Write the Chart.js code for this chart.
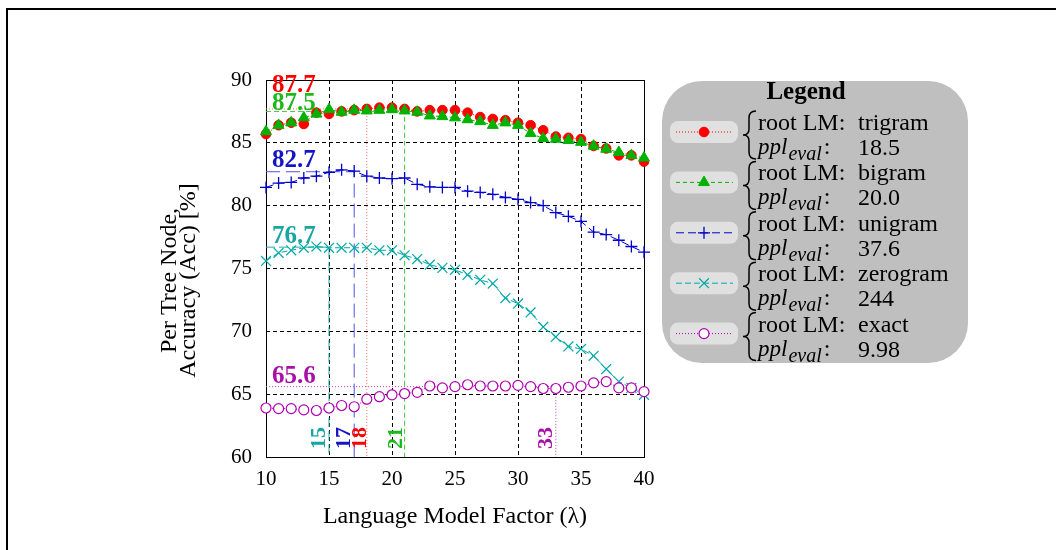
<!DOCTYPE html>
<html>
<head>
<meta charset="utf-8">
<script src="https://cdn.jsdelivr.net/npm/chart.js@4.4.0/dist/chart.umd.min.js"></script>
<style>
  html, body { margin: 0; padding: 0; background: #fff; }
  canvas { display: block; }
</style>
</head>
<body>
<canvas id="accChart" width="1056" height="550"></canvas>
<script>
// language model factor (lambda) on the x axis
const lambdas = [10, 11, 12, 13, 14, 15, 16, 17, 18, 19, 20, 21, 22, 23, 24, 25,
                 26, 27, 28, 29, 30, 31, 32, 33, 34, 35, 36, 37, 38, 39, 40];

// per tree node accuracy [%] for each root LM
const trigramAcc  = [85.7, 86.4, 86.6, 86.5, 87.4, 87.3, 87.5, 87.6, 87.7, 87.8, 87.8, 87.7, 87.5, 87.6, 87.6, 87.6,
                     87.4, 87.05, 86.9, 86.8, 86.6, 86.4, 86.0, 85.5, 85.4, 85.3, 84.75, 84.55, 84.0, 84.0, 83.5];
const bigramAcc   = [85.9, 86.4, 86.6, 87.0, 87.3, 87.65, 87.45, 87.6, 87.55, 87.6, 87.65, 87.55, 87.45, 87.15, 87.1, 87.0,
                     86.85, 86.7, 86.4, 86.6, 86.4, 85.75, 85.35, 85.3, 85.2, 85.05, 84.75, 84.5, 84.25, 84.0, 83.8];
const unigramAcc  = [81.45, 81.8, 81.85, 82.2, 82.35, 82.65, 82.85, 82.75, 82.35, 82.2, 82.15, 82.2, 81.7, 81.5, 81.45, 81.45,
                     81.15, 81.05, 80.9, 80.65, 80.5, 80.25, 80.0, 79.45, 79.15, 78.75, 77.9, 77.7, 77.25, 76.75, 76.3];
const zerogramAcc = [75.6, 76.25, 76.45, 76.65, 76.75, 76.65, 76.65, 76.65, 76.65, 76.45, 76.45, 76.05, 75.75, 75.3, 75.05, 74.9,
                     74.5, 74.1, 73.8, 72.65, 72.2, 71.5, 70.35, 69.55, 68.8, 68.6, 68.05, 67.0, 66.0, 65.5, 64.95];
const exactAcc    = [63.9, 63.85, 63.85, 63.75, 63.7, 63.9, 64.1, 64.0, 64.6, 64.8, 64.95, 65.05, 65.15, 65.65, 65.5, 65.6,
                     65.75, 65.65, 65.65, 65.65, 65.7, 65.6, 65.45, 65.45, 65.55, 65.65, 65.9, 66.0, 65.5, 65.5, 65.2];

// marked best lambda and best accuracy per series
const bestLambda = [18, 21, 17, 15, 33];
const bestAcc    = [87.7, 87.5, 82.7, 76.7, 65.6];

// legend texts
const rootLMs = ['trigram', 'bigram', 'unigram', 'zerogram', 'exact'];
const pplEval = ['18.5', '20.0', '37.6', '244', '9.98'];

// axis ticks and titles
const xTickValues = [10, 15, 20, 25, 30, 35, 40];
const yTickValues = [60, 65, 70, 75, 80, 85, 90];
const xTitle = 'Language Model Factor (\u03bb)';
const yTitle = ['Per Tree Node,', 'Accuracy (Acc) [%]'];

const seriesAcc = [trigramAcc, bigramAcc, unigramAcc, zerogramAcc, exactAcc];

const SERIF = '"Liberation Serif", "Times New Roman", serif';

const styles = [
  { color: '#ff0000', guide: '#ff6a6a', label: '#ff0000', marker: 'circle',   fill: '#ff0000', radius: 4.8, width: 1,   dash: [1, 2], guideDash: [1, 2],  lift: 17,  rotGap: 0.5, order: 5 },
  { color: '#00b300', guide: '#44c444', label: '#1cb81c', marker: 'triangle', fill: '#00b300', radius: 6.3, width: 1,   dash: [4, 3], guideDash: [5, 3],  lift: 1.5, rotGap: 3,   order: 4 },
  { color: '#0000cc', guide: '#5050e8', label: '#1414c8', marker: 'cross',    fill: '#0000cc', radius: 6,   width: 1.3, dash: [8, 4], guideDash: [14, 6], lift: 5,   rotGap: 4,   order: 3 },
  { color: '#00a8a8', guide: '#20a8a8', label: '#1aa5a5', marker: 'crossRot', fill: '#00a8a8', radius: 7,   width: 1.2, dash: [6, 3], guideDash: [9, 4],  lift: 4,   rotGap: 4,   order: 2 },
  { color: '#b000b0', guide: '#c040c0', label: '#a810a8', marker: 'circle',   fill: '#ffffff', radius: 5,   width: 1.2, dash: [1, 2], guideDash: [1, 2],  lift: 3.6, rotGap: 4,   order: 1 }
];

const datasets = [];
seriesAcc.forEach((acc, i) => {
  const s = styles[i];
  datasets.push({
    label: 'root LM: ' + rootLMs[i],
    data: lambdas.map((x, j) => ({ x: x, y: acc[j] })),
    borderColor: s.color,
    borderWidth: 1,
    borderDash: s.dash,
    backgroundColor: s.fill,
    pointStyle: s.marker,
    pointRadius: s.radius,
    pointBorderColor: s.color,
    pointBackgroundColor: s.fill,
    pointBorderWidth: s.width,
    tension: 0,
    clip: false,
    order: s.order
  });
});
// guide lines to the best point
bestLambda.forEach((bx, i) => {
  const s = styles[i];
  datasets.push({
    label: 'best ' + rootLMs[i],
    data: [{ x: 10, y: bestAcc[i] }, { x: bx, y: bestAcc[i] }, { x: bx, y: 60 }],
    borderColor: s.guide,
    borderWidth: 1,
    borderDash: s.guideDash,
    pointRadius: 0,
    tension: 0,
    clip: false,
    order: 10
  });
});

const decorPlugin = {
  id: 'decor',
  beforeDraw(chart) {
    const ctx = chart.ctx;
    ctx.save();
    ctx.fillStyle = '#fff';
    ctx.fillRect(0, 0, chart.width, chart.height);
    ctx.fillStyle = '#000';
    ctx.fillRect(6, 8, chart.width - 6, 2);
    ctx.fillRect(6, 8, 2, chart.height - 8);
    // y axis title, two lines
    const ys = chart.scales.y;
    ctx.translate(0, (ys.top + ys.bottom) / 2 + 12);
    ctx.rotate(-Math.PI / 2);
    ctx.font = '24px ' + SERIF;
    ctx.textAlign = 'center';
    ctx.textBaseline = 'alphabetic';
    ctx.fillText(yTitle[0], 0, 176);
    ctx.fillText(yTitle[1], 0, 195);
    ctx.restore();
  },
  beforeDatasetsDraw(chart) {
    const { ctx, chartArea } = chart;
    ctx.save();
    ctx.strokeStyle = '#000';
    ctx.lineWidth = 1;
    ctx.strokeRect(Math.round(chartArea.left) + 0.5, Math.round(chartArea.top) + 0.5,
                   Math.round(chartArea.right - chartArea.left), Math.round(chartArea.bottom - chartArea.top));
    ctx.restore();
  },
  afterDatasetsDraw(chart) {
    const ctx = chart.ctx;
    const xs = chart.scales.x, ys = chart.scales.y;
    ctx.save();
    // best value labels
    ctx.font = 'bold 25px ' + SERIF;
    ctx.textAlign = 'left';
    ctx.textBaseline = 'alphabetic';
    bestAcc.forEach((v, i) => {
      ctx.fillStyle = styles[i].label;
      ctx.fillText(v.toFixed(1), xs.getPixelForValue(10) + 6, ys.getPixelForValue(v) - styles[i].lift);
    });
    // best lambda labels, rotated
    ctx.font = 'bold 22px ' + SERIF;
    bestLambda.forEach((bx, i) => {
      ctx.save();
      ctx.translate(xs.getPixelForValue(bx) - styles[i].rotGap, ys.getPixelForValue(60) - 8);
      ctx.rotate(-Math.PI / 2);
      ctx.fillStyle = styles[i].label;
      ctx.fillText(String(bx), 0, 0);
      ctx.restore();
    });
    ctx.restore();
    drawLegend(chart);
  }
};

function roundRect(ctx, x, y, w, h, r) {
  ctx.beginPath();
  ctx.moveTo(x + r, y);
  ctx.arcTo(x + w, y, x + w, y + h, r);
  ctx.arcTo(x + w, y + h, x, y + h, r);
  ctx.arcTo(x, y + h, x, y, r);
  ctx.arcTo(x, y, x + w, y, r);
  ctx.closePath();
}

function drawLegend(chart) {
  const ctx = chart.ctx;
  ctx.save();
  ctx.fillStyle = '#bfbfbf';
  roundRect(ctx, 662, 81, 306, 282, 40);
  ctx.fill();

  ctx.fillStyle = '#000';
  ctx.font = 'bold 25px ' + SERIF;
  ctx.textAlign = 'center';
  ctx.textBaseline = 'middle';
  ctx.fillText('Legend', 806, 93);

  rootLMs.forEach((name, i) => {
    const s = styles[i];
    const y1 = 122 + i * 50.4;
    const y2 = y1 + 25;
    // sample pill
    ctx.fillStyle = '#e0e0e0';
    roundRect(ctx, 670, y1 - 1, 68, 22, 8);
    ctx.fill();
    const cy = y1 + 10;
    ctx.strokeStyle = s.color;
    ctx.lineWidth = 1;
    ctx.setLineDash(s.dash);
    ctx.beginPath();
    ctx.moveTo(676, cy);
    ctx.lineTo(733, cy);
    ctx.stroke();
    ctx.setLineDash([]);
    ctx.fillStyle = s.fill;
    ctx.strokeStyle = s.color;
    ctx.lineWidth = s.width;
    Chart.helpers.drawPoint(ctx, { pointStyle: s.marker, radius: s.radius, borderWidth: s.width, rotation: 0 }, 704, cy);

    // brace
    ctx.strokeStyle = '#000';
    ctx.lineWidth = 1.5;
    const xm = 749, yT = y1 - 11, yB = y2 + 12, yM = (yT + yB) / 2;
    ctx.beginPath();
    ctx.moveTo(756, yT);
    ctx.quadraticCurveTo(xm, yT, xm, yT + 7);
    ctx.lineTo(xm, yM - 6);
    ctx.quadraticCurveTo(xm, yM, 743, yM);
    ctx.quadraticCurveTo(xm, yM, xm, yM + 6);
    ctx.lineTo(xm, yB - 7);
    ctx.quadraticCurveTo(xm, yB, 756, yB);
    ctx.stroke();

    // texts
    ctx.fillStyle = '#000';
    ctx.textAlign = 'left';
    ctx.textBaseline = 'alphabetic';
    ctx.font = '24px ' + SERIF;
    ctx.fillText('root LM:', 758, y1 + 8);
    ctx.fillText(name, 858, y1 + 8);
    ctx.font = 'italic 23px ' + SERIF;
    ctx.fillText('ppl', 758, y2 + 7);
    let x = 758 + ctx.measureText('ppl').width + 1;
    ctx.font = 'italic 20px ' + SERIF;
    ctx.fillText('eval', x, y2 + 13);
    x += ctx.measureText('eval').width + 2;
    ctx.font = '24px ' + SERIF;
    ctx.fillText(':', x, y2 + 7);
    ctx.fillText(pplEval[i], 858, y2 + 8);
  });
  ctx.restore();
}

new Chart(document.getElementById('accChart'), {
  type: 'line',
  data: { datasets: datasets },
  plugins: [decorPlugin],
  options: {
    responsive: false,
    animation: false,
    layout: { padding: { left: 150, top: 80, right: 412, bottom: 19 } },
    plugins: { legend: { display: false }, tooltip: { enabled: false } },
    scales: {
      x: {
        type: 'linear',
        min: 10,
        max: 40,
        afterBuildTicks: (scale) => { scale.ticks = xTickValues.map(v => ({ value: v })); },
        afterFit: (scale) => { scale.height = 74; scale.paddingLeft = 0; scale.paddingRight = 0; },
        grid: { color: '#000', lineWidth: 1, drawTicks: false },
        border: { display: false, dash: [4, 3] },
        ticks: { color: '#000', padding: 10, font: { family: SERIF, size: 21 } },
        title: {
          display: true,
          text: xTitle,
          color: '#000',
          padding: { top: 0, bottom: 0 },
          font: { family: SERIF, size: 24 }
        }
      },
      y: {
        type: 'linear',
        min: 60,
        max: 90,
        afterBuildTicks: (scale) => { scale.ticks = yTickValues.map(v => ({ value: v })); },
        afterFit: (scale) => { scale.width = 116; scale.paddingTop = 0; scale.paddingBottom = 0; },
        grid: { color: '#000', lineWidth: 1, drawTicks: false },
        border: { display: false, dash: [4, 3] },
        ticks: { color: '#000', padding: 14, font: { family: SERIF, size: 21 } },
        title: { display: false, text: yTitle }
      }
    }
  }
});
</script>
</body>
</html>
